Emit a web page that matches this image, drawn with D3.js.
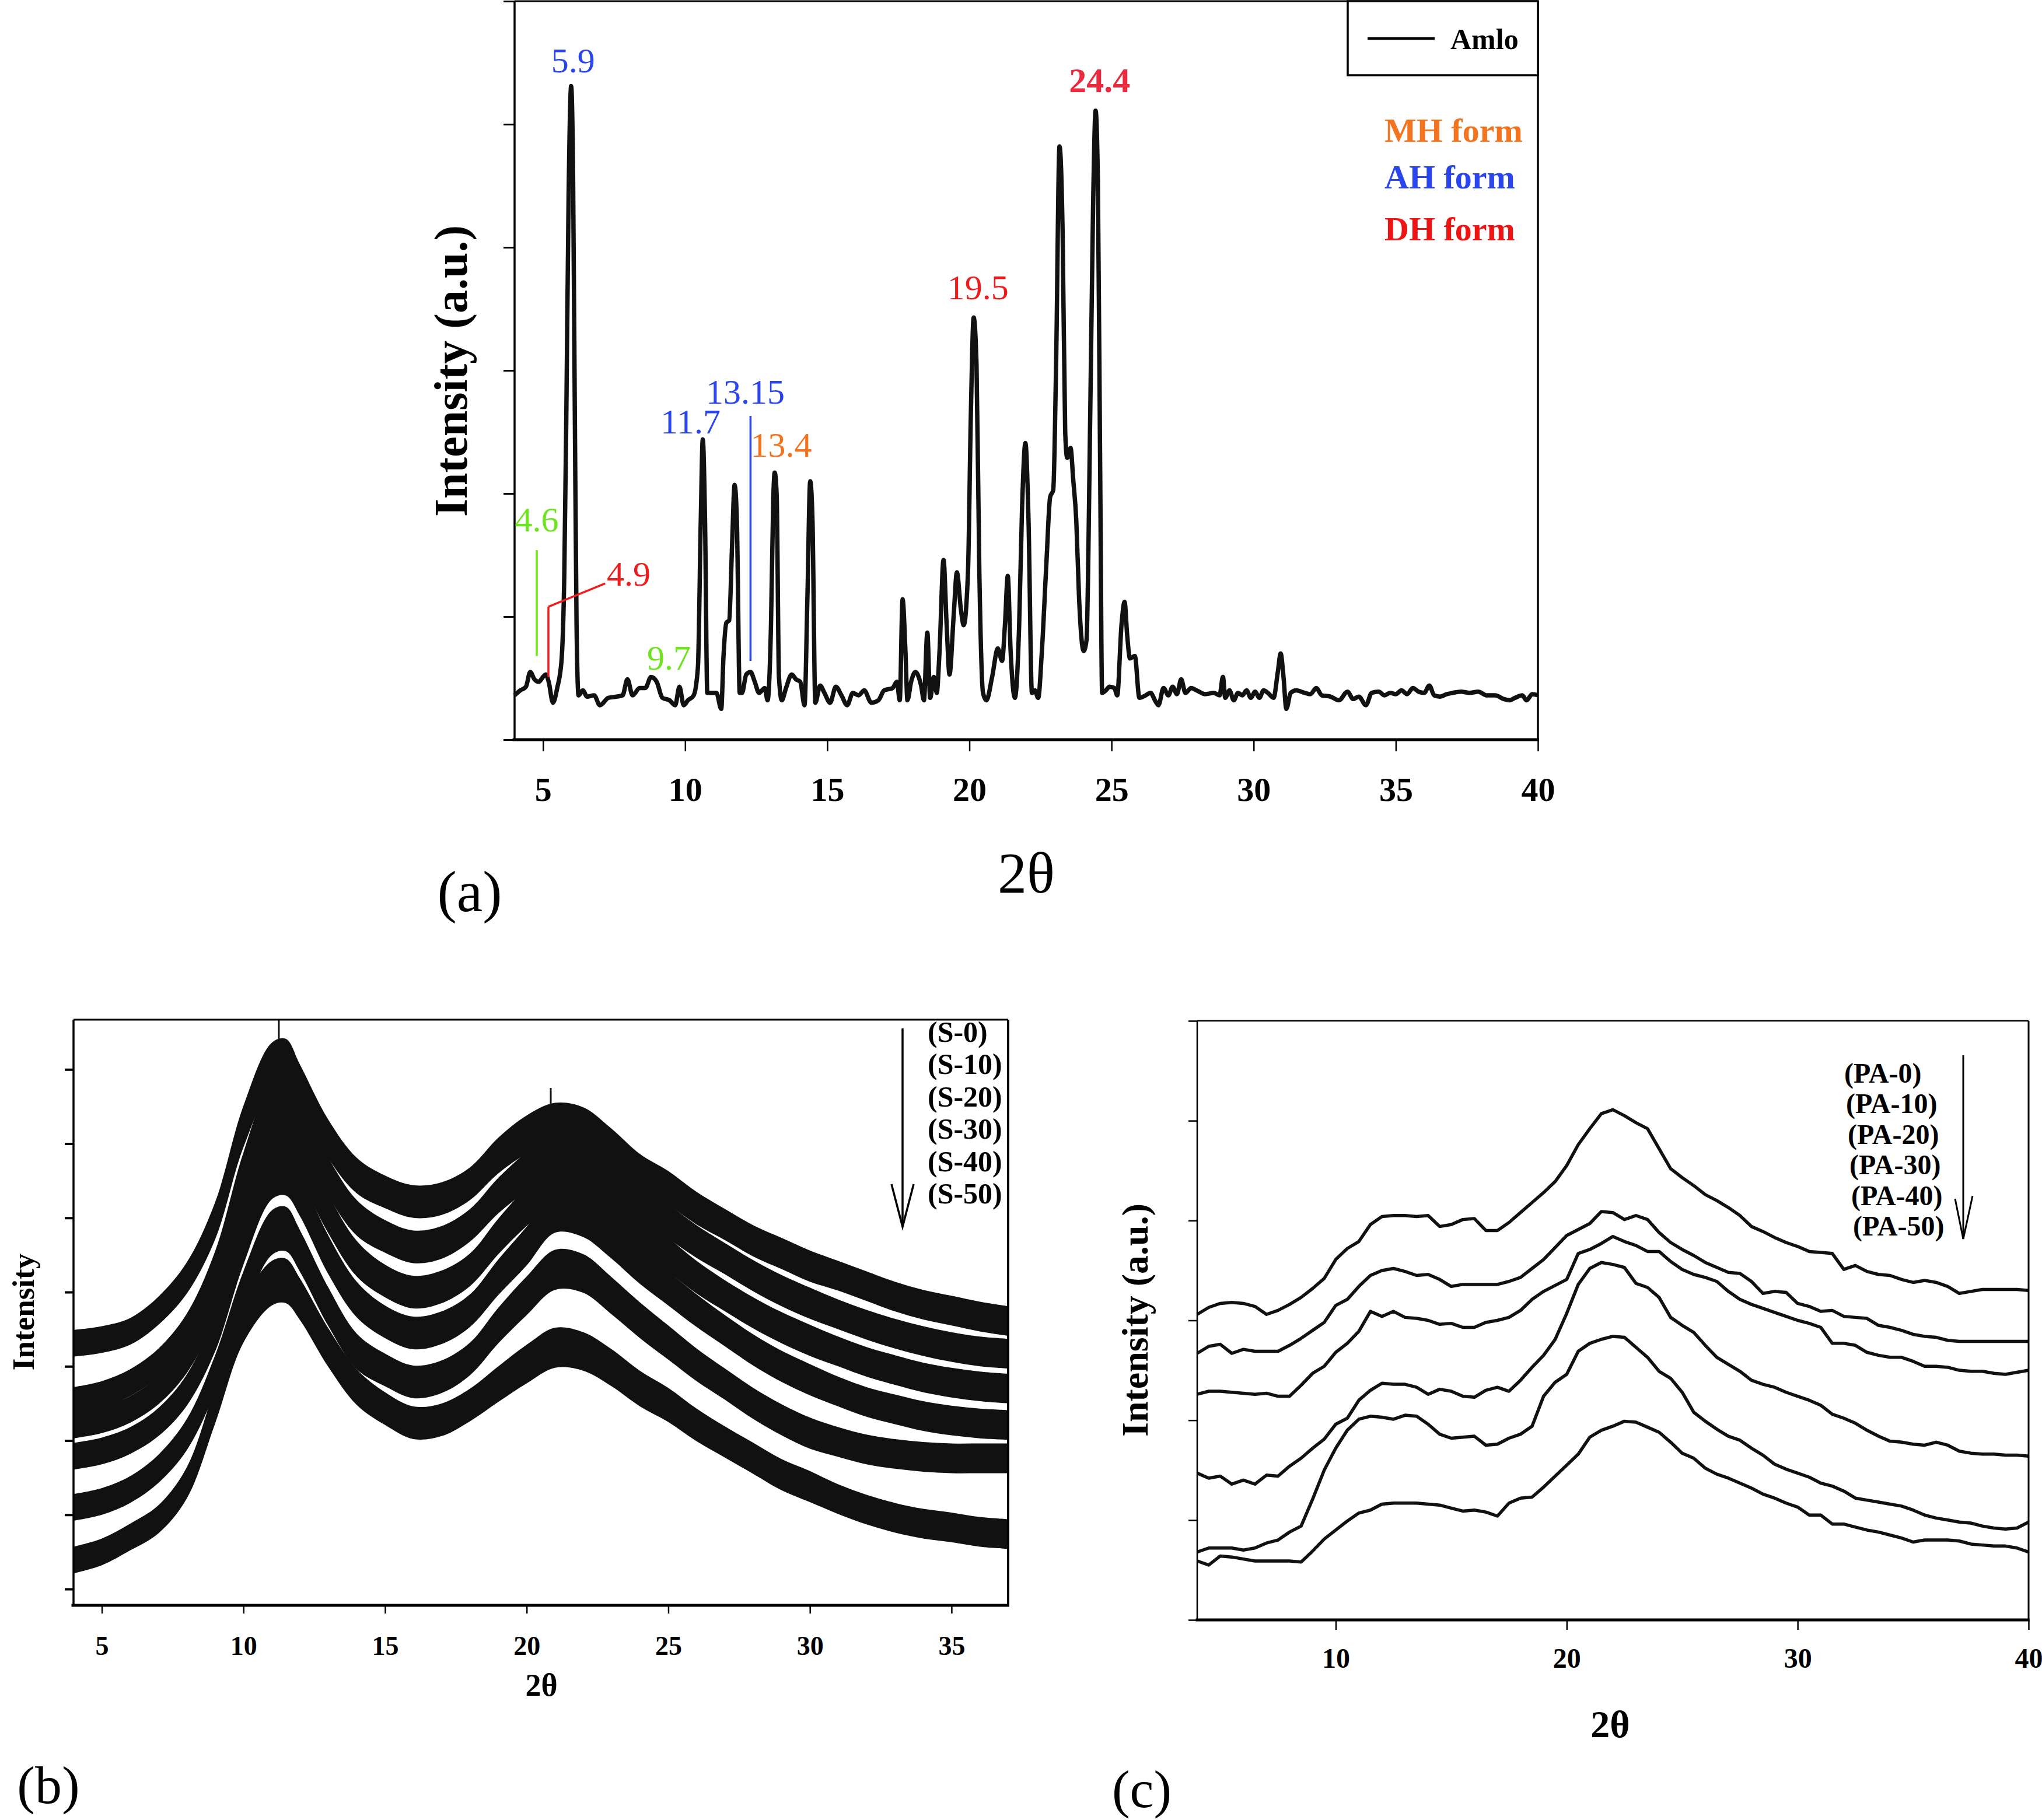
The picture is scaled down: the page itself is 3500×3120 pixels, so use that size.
<!DOCTYPE html>
<html><head><meta charset="utf-8">
<script src="https://cdn.jsdelivr.net/npm/d3@7"></script>
<style>body{margin:0;background:#fff}</style>
</head><body>
<svg id="fig" width="3500" height="3120" xmlns="http://www.w3.org/2000/svg"></svg>
<script>
// ---------------- DATA ----------------
// Panel (a): Amlo XRD pattern (2theta, intensity a.u.)
const amloTheta = [4.0,4.2,4.4,4.55,4.7,4.85,5.0,5.1,5.2,5.35,5.5,5.65,5.75,5.82,5.9,5.99,6.06,6.12,6.18,6.25,6.4,6.55,6.8,7.0,7.3,7.6,7.8,7.97,8.15,8.4,8.6,8.8,9.0,9.2,9.45,9.65,9.8,9.95,10.1,10.3,10.45,10.55,10.62,10.7,10.78,10.9,11.1,11.27,11.35,11.45,11.55,11.65,11.74,11.82,11.92,12.0,12.15,12.3,12.45,12.6,12.8,12.9,13.02,13.1,13.15,13.22,13.3,13.4,13.55,13.75,13.9,14.05,14.2,14.3,14.4,14.48,14.58,14.75,14.9,15.1,15.3,15.5,15.7,15.9,16.1,16.3,16.55,16.8,17.0,17.3,17.45,17.55,17.65,17.75,17.82,17.95,18.1,18.3,18.4,18.52,18.62,18.75,18.85,18.95,19.09,19.2,19.3,19.45,19.56,19.7,19.8,19.95,20.05,20.15,20.25,20.35,20.48,20.6,20.8,21.0,21.15,21.25,21.35,21.45,21.6,21.75,21.85,21.97,22.08,22.2,22.3,22.42,22.55,22.71,22.84,22.95,23.05,23.17,23.28,23.37,23.44,23.56,23.65,23.76,23.86,24.02,24.12,24.25,24.35,24.44,24.52,24.6,24.67,24.8,24.93,25.1,25.2,25.35,25.46,25.55,25.65,25.82,25.98,26.2,26.37,26.55,26.65,26.83,27.0,27.15,27.3,27.45,27.6,27.8,28.0,28.3,28.6,28.8,28.92,29.0,29.15,29.3,29.45,29.6,29.75,29.9,30.05,30.2,30.35,30.5,30.7,30.85,30.95,31.05,31.15,31.3,31.5,31.8,32.0,32.2,32.4,32.7,33.0,33.3,33.5,33.7,33.95,34.15,34.4,34.6,34.8,35.0,35.2,35.4,35.6,35.8,36.0,36.18,36.35,36.55,36.8,37.0,37.3,37.6,37.9,38.2,38.5,38.8,39.0,39.2,39.45,39.6,39.8,40.0];
const amloIntensity = [36,40,43,55,49,47,51,53,47,30,42,64,136,263,441,531,453,263,93,36,40,35,36,28,34,35,36,49,36,42,42,51,47,34,32,28,43,28,32,36,59,178,244,178,38,38,38,25,68,95,97,157,207,178,38,38,53,55,47,38,42,32,93,195,217,199,51,32,42,53,49,47,28,114,210,178,30,44,38,30,43,36,28,38,36,40,30,32,40,42,47,32,114,72,32,47,55,44,32,87,34,51,38,72,146,93,53,102,136,106,93,136,263,343,305,136,38,32,51,74,64,93,133,72,34,93,186,241,178,38,40,34,72,144,197,203,305,482,411,250,229,237,212,178,114,72,81,263,432,511,453,220,38,40,43,42,36,93,112,85,66,68,34,36,38,31,28,42,36,43,37,49,38,42,40,37,38,36,51,34,40,32,38,36,40,34,39,34,40,38,34,55,70,51,25,38,40,38,37,42,36,35,32,39,33,35,28,38,39,36,38,37,40,37,42,39,38,44,36,35,37,38,39,38,39,36,36,33,32,34,36,32,37,36];
const amloXTicks = [5,10,15,20,25,30,35,40];
const amloYTicks = [0,100,200,300,400,500,600];

// Peak annotations of panel (a)
const peakText      = ["5.9","24.4","19.5","11.7","13.15","13.4","4.6","4.9","9.7"];
const peakTheta     = [6.06, 24.58, 20.30, 10.19, 12.12, 13.38, 4.78, 8.01, 9.43];
const peakIntensity = [542, 526, 358, 249, 273, 230, 169, 125, 57];
const peakColor     = ["#2a44ee","#ea2b3f","#ee1c1c","#2a44ee","#2a44ee","#f3731f","#6ee41e","#ee1c1c","#6ee41e"];
const peakBold      = [false,true,false,false,false,false,false,false,false];
// marker lines: [theta1, int1] -> [theta2, int2]
const markTheta1 = [4.78, 5.19, 5.19, 12.30];
const markInt1   = [154, 51, 108, 263];
const markTheta2 = [4.78, 5.19, 7.19, 12.30];
const markInt2   = [68, 108, 127, 64];
const markColor  = ["#6ee41e","#ee1c1c","#ee1c1c","#2a44ee"];
const formNames  = ["MH form","AH form","DH form"];
const formColors = ["#f3731f","#2a44ee","#ee1414"];

// Panel (b): S-series (amorphous, noisy) – centre of each noisy band and band half-width
const sTheta = [4,5,6,7,8,9,10,11,11.5,12,13,14,15,16,17,18,19,20,21,22,23,24,25,26,27,28,29,30,31,32,33,34,35,36,37];
const s0  = [3.31,3.36,3.47,3.75,4.19,4.96,6.23,7.06,7.11,6.78,6.06,5.57,5.35,5.22,5.26,5.46,5.84,6.12,6.28,6.23,5.95,5.62,5.40,5.13,4.91,4.69,4.52,4.35,4.22,4.08,3.94,3.83,3.75,3.67,3.61];
const s10 = [2.54,2.62,2.78,3.05,3.50,4.30,5.60,6.55,6.62,6.30,5.55,5.00,4.75,4.61,4.67,4.90,5.30,5.62,5.84,5.80,5.52,5.20,4.95,4.68,4.45,4.22,4.02,3.85,3.70,3.56,3.44,3.34,3.26,3.20,3.17];
const s20 = [2.21,2.28,2.42,2.68,3.12,3.90,5.15,6.05,6.10,5.80,5.05,4.45,4.15,4.00,4.07,4.30,4.75,5.15,5.46,5.42,5.12,4.78,4.50,4.20,3.95,3.72,3.52,3.35,3.20,3.06,2.95,2.85,2.78,2.73,2.70];
const s30 = [1.79,1.86,2.00,2.25,2.68,3.45,4.65,5.55,5.60,5.30,4.50,3.90,3.60,3.45,3.52,3.75,4.20,4.62,5.07,5.00,4.70,4.35,4.05,3.75,3.48,3.22,3.00,2.82,2.66,2.52,2.42,2.33,2.27,2.23,2.21];
const s40 = [1.10,1.18,1.34,1.62,2.08,2.90,4.00,4.80,4.85,4.55,3.80,3.20,2.95,2.79,2.86,3.10,3.55,3.95,4.30,4.25,3.95,3.62,3.32,3.02,2.76,2.50,2.28,2.10,1.98,1.88,1.82,1.78,1.76,1.76,1.76];
const s50 = [0.39,0.50,0.70,0.94,1.43,2.48,3.60,4.12,4.15,3.90,3.25,2.72,2.43,2.24,2.28,2.48,2.76,3.03,3.25,3.20,2.98,2.70,2.48,2.21,1.98,1.76,1.54,1.38,1.21,1.07,0.96,0.88,0.83,0.77,0.74];
const sHalf = [0.18,0.18,0.18,0.19,0.21,0.25,0.28,0.30,0.30,0.28,0.26,0.24,0.22,0.22,0.22,0.22,0.24,0.26,0.27,0.26,0.25,0.24,0.23,0.22,0.21,0.21,0.21,0.21,0.20,0.20,0.20,0.20,0.20,0.20,0.20];
const sSpikeTheta = [11.25, 20.85];
const sSpikeTop   = [7.67, 6.75];
const sSpikeBase  = [7.08, 6.28];
const sNames = ["(S-0)","(S-10)","(S-20)","(S-30)","(S-40)","(S-50)"];
const sXTicks = [5,10,15,20,25,30,35];
const sYTicks = [0,1,2,3,4,5,6,7];

// Panel (c): PA-series
const paTheta = [4,4.5,5,5.5,6,6.5,7,7.5,8,8.5,9,9.5,10,10.5,11,11.5,12,12.5,13,13.5,14,14.5,15,15.5,16,16.5,17,17.5,18,18.5,19,19.5,20,20.5,21,21.5,22,22.5,23,23.5,24,24.5,25,25.5,26,26.5,27,27.5,28,28.5,29,29.5,30,30.5,31,31.5,32,32.5,33,33.5,34,34.5,35,35.5,36,36.5,37,37.5,38,38.5,39,39.5,40];
const pa0  = [306,313,317,318,317,314,306,310,316,323,332,342,361,372,379,396,404,405,405,404,405,394,396,401,402,390,390,398,408,418,428,439,455,476,492,507,511,505,498,492,472,452,443,435,426,420,413,405,394,389,383,378,374,369,368,367,351,355,349,346,345,341,338,340,338,334,327,329,331,331,331,331,330];
const pa10 = [267,274,276,267,271,269,269,269,275,282,290,298,315,321,334,345,350,352,349,345,346,341,334,336,336,336,336,339,343,352,361,373,385,391,397,409,408,401,405,401,388,378,371,365,358,353,348,347,339,327,329,328,317,314,309,310,304,303,302,295,293,290,286,284,283,280,279,279,279,279,279,279,279];
const pa20 = [226,229,229,228,227,226,227,224,224,235,247,254,268,277,289,309,304,309,303,302,300,296,297,293,293,298,300,303,310,321,329,335,341,367,371,377,384,379,375,369,369,359,351,346,343,339,329,321,316,312,308,304,300,297,293,277,277,275,268,265,263,263,259,254,254,253,250,249,249,247,246,248,250];
const pa30 = [147,142,144,136,140,136,145,144,154,162,172,181,196,202,220,230,237,236,236,233,226,231,229,224,223,230,233,229,240,253,265,281,307,336,352,358,356,353,337,333,323,303,295,288,275,263,256,249,240,236,233,228,224,220,215,206,202,197,190,184,179,178,176,175,178,175,169,167,166,166,165,165,164];
const pa40 = [68,72,72,72,70,72,77,80,88,94,121,150,172,190,201,204,203,201,205,204,196,186,182,183,184,175,176,182,186,194,224,238,246,269,277,281,284,283,273,263,249,242,228,208,199,191,184,180,172,165,156,151,147,143,137,134,129,122,120,118,116,114,110,105,102,100,98,97,94,92,91,92,98];
const pa50 = [59,55,64,63,61,59,59,59,59,58,69,81,90,99,107,110,116,117,117,117,116,115,112,109,110,108,104,117,122,123,133,144,155,166,183,190,194,199,198,193,188,178,167,162,152,146,142,137,132,126,122,117,113,105,105,96,96,93,90,88,85,82,78,80,80,80,79,76,75,74,74,72,68];
const paNames = ["(PA-0)","(PA-10)","(PA-20)","(PA-30)","(PA-40)","(PA-50)"];
const paXTicks = [10,20,30,40];
const paYTicks = [0,100,200,300,400,500,600];

// ---------------- DRAWING ----------------
const SERIF = "'Liberation Serif','Times New Roman',serif";
const svg = d3.select("#fig").attr("font-family", SERIF);
svg.append("rect").attr("width",3500).attr("height",3120).attr("fill","#fff");

function frame(g, L, R, T, B, w) {
  // w: [left, right, top, bottom]
  g.append("line").attr("x1",L).attr("x2",L).attr("y1",T).attr("y2",B).attr("stroke","#000").attr("stroke-width",w[0]);
  g.append("line").attr("x1",R).attr("x2",R).attr("y1",T).attr("y2",B).attr("stroke","#000").attr("stroke-width",w[1]);
  g.append("line").attr("x1",L).attr("x2",R).attr("y1",T).attr("y2",T).attr("stroke","#000").attr("stroke-width",w[2]);
  g.append("line").attr("x1",L-w[0]).attr("x2",R+w[1]/2).attr("y1",B).attr("y2",B).attr("stroke","#000").attr("stroke-width",w[3]);
}
function styleAxis(g, fs, tw) {
  g.select(".domain").remove();
  g.selectAll(".tick line").attr("stroke","#000").attr("stroke-width",tw);
  g.selectAll(".tick text").attr("font-size",fs).attr("font-weight","bold").attr("fill","#000").attr("font-family",SERIF);
}

// ===== Panel (a) =====
{
  const L=882, R=2636, T=2, B=1268;
  const x = d3.scaleLinear().domain([4,40]).range([L,R]);
  const y = d3.scaleLinear().domain([0,600]).range([B,T]);
  const g = svg.append("g");
  const gx = g.append("g").attr("transform",`translate(0,${B})`)
    .call(d3.axisBottom(x).tickValues(amloXTicks).tickSize(20).tickPadding(44));
  styleAxis(gx, 58, 2.5);
  const gy = g.append("g").attr("transform",`translate(${L},0)`)
    .call(d3.axisLeft(y).tickValues(amloYTicks).tickSize(19).tickFormat(""));
  styleAxis(gy, 0, 3);
  frame(g, L, R, T, B, [3.5,3.5,3,5]);

  const pts = amloTheta.map((t,i)=>[t, amloIntensity[i]]);
  g.append("path").datum(pts)
    .attr("d", d3.line().x(d=>x(d[0])).y(d=>y(d[1])).curve(d3.curveMonotoneX))
    .attr("fill","none").attr("stroke","#111").attr("stroke-width",7.5).attr("stroke-linejoin","round");

  markTheta1.forEach((t,i)=>{
    g.append("line").attr("x1",x(t)).attr("y1",y(markInt1[i])).attr("x2",x(markTheta2[i])).attr("y2",y(markInt2[i]))
      .attr("stroke",markColor[i]).attr("stroke-width",3.5);
  });
  peakText.forEach((s,i)=>{
    g.append("text").attr("x",x(peakTheta[i])).attr("y",y(peakIntensity[i]))
      .attr("text-anchor","middle").attr("font-size",60).attr("font-weight",peakBold[i]?"bold":"normal")
      .attr("fill",peakColor[i]).text(s);
  });

  // legend box
  g.append("rect").attr("x",2310).attr("y",2).attr("width",R-2310).attr("height",127)
    .attr("fill","#fff").attr("stroke","#000").attr("stroke-width",3.5);
  g.append("line").attr("x1",2344).attr("x2",2459).attr("y1",66).attr("y2",66).attr("stroke","#000").attr("stroke-width",4.5);
  g.append("text").attr("x",2486).attr("y",84).attr("font-size",50).attr("font-weight","bold").text("Amlo");
  formNames.forEach((s,i)=>{
    g.append("text").attr("x",2373).attr("y",[243,323,412][i]).attr("font-size",58).attr("font-weight","bold")
      .attr("fill",formColors[i]).text(s);
  });

  g.append("text").attr("transform","translate(800,636) rotate(-90)").attr("text-anchor","middle")
    .attr("font-size",80).attr("font-weight","bold").text("Intensity (a.u.)");
  g.append("text").attr("x",1759).attr("y",1530).attr("text-anchor","middle").attr("font-size",100).text("2θ");
  g.append("text").attr("x",805).attr("y",1562).attr("text-anchor","middle").attr("font-size",100).text("(a)");
}

// ===== Panel (b) =====
{
  const L=126, R=1728, T=1748, B=2752;
  const x = d3.scaleLinear().domain([4,37]).range([L,R]);
  const y = d3.scaleLinear().domain([-0.22,7.67]).range([B,T]);
  const g = svg.append("g");
  g.append("clipPath").attr("id","clipB").append("rect").attr("x",L).attr("y",T).attr("width",R-L).attr("height",B-T);
  const gx = g.append("g").attr("transform",`translate(0,${B})`)
    .call(d3.axisBottom(x).tickValues(sXTicks).tickSize(14).tickPadding(38));
  styleAxis(gx, 46, 2.5);
  const gy = g.append("g").attr("transform",`translate(${L},0)`)
    .call(d3.axisLeft(y).tickValues(sYTicks).tickSize(15).tickFormat(""));
  styleAxis(gy, 0, 4);

  const series = [s0,s10,s20,s30,s40,s50];
  const area = d3.area().x(d=>x(d[0])).y0(d=>y(d[1]-d[2])).y1(d=>y(d[1]+d[2])).curve(d3.curveCatmullRom.alpha(0.5));
  const plot = g.append("g").attr("clip-path","url(#clipB)");
  series.forEach(s=>{
    const pts = sTheta.map((t,i)=>[t, s[i], sHalf[i]]);
    plot.append("path").datum(pts).attr("d",area).attr("fill","#111");
  });
  sSpikeTheta.forEach((t,i)=>{
    plot.append("line").attr("x1",x(t)).attr("x2",x(t)).attr("y1",y(sSpikeBase[i])).attr("y2",y(sSpikeTop[i]))
      .attr("stroke","#111").attr("stroke-width",3);
  });
  frame(g, L, R, T, B, [3.5,4,3,5]);

  // legend
  sNames.forEach((s,i)=>{
    g.append("text").attr("x",1590).attr("y",1786+55.4*i).attr("font-size",50).attr("font-weight","bold").text(s);
  });
  g.append("line").attr("x1",1547).attr("x2",1547).attr("y1",1763).attr("y2",2103).attr("stroke","#000").attr("stroke-width",3.5);
  g.append("path").attr("d","M1528,2030 L1547,2103 L1566,2030").attr("fill","none").attr("stroke","#000").attr("stroke-width",3.5);

  g.append("text").attr("transform","translate(58,2249) rotate(-90)").attr("text-anchor","middle")
    .attr("font-size",53).attr("font-weight","bold").text("Intensity");
  g.append("text").attr("x",928).attr("y",2907).attr("text-anchor","middle").attr("font-size",54).attr("font-weight","bold").text("2θ");
  g.append("text").attr("x",83).attr("y",3091).attr("text-anchor","middle").attr("font-size",92).text("(b)");
}

// ===== Panel (c) =====
{
  const L=2052, R=3477, T=1750, B=2777;
  const x = d3.scaleLinear().domain([4,40]).range([L,R]);
  const y = d3.scaleLinear().domain([0,600]).range([B,T]);
  const g = svg.append("g");
  const gx = g.append("g").attr("transform",`translate(0,${B})`)
    .call(d3.axisBottom(x).tickValues(paXTicks).tickSize(17).tickPadding(31));
  styleAxis(gx, 48, 2.5);
  const gy = g.append("g").attr("transform",`translate(${L},0)`)
    .call(d3.axisLeft(y).tickValues(paYTicks).tickSize(15).tickFormat(""));
  styleAxis(gy, 0, 2.5);

  const series = [pa0,pa10,pa20,pa30,pa40,pa50];
  const line = d3.line().x(d=>x(d[0])).y(d=>y(d[1]));
  series.forEach(s=>{
    const pts = paTheta.map((t,i)=>[t, s[i]]);
    g.append("path").datum(pts).attr("d",line).attr("fill","none").attr("stroke","#111")
      .attr("stroke-width",5.5).attr("stroke-linejoin","round");
  });
  frame(g, L, R, T, B, [2.5,3,2.5,5]);

  paNames.forEach((s,i)=>{
    g.append("text").attr("x",3161+3*i).attr("y",1856+52.4*i).attr("font-size",48).attr("font-weight","bold").text(s);
  });
  g.append("line").attr("x1",3365).attr("x2",3365).attr("y1",1809).attr("y2",2124).attr("stroke","#000").attr("stroke-width",3);
  g.append("path").attr("d","M3351,2055 L3365,2124 L3381,2050").attr("fill","none").attr("stroke","#000").attr("stroke-width",3);

  g.append("text").attr("transform","translate(1967,2263) rotate(-90)").attr("text-anchor","middle")
    .attr("font-size",64).attr("font-weight","bold").text("Intensity (a.u.)");
  g.append("text").attr("x",2760).attr("y",2978).attr("text-anchor","middle").attr("font-size",66).attr("font-weight","bold").text("2θ");
  g.append("text").attr("x",1957).attr("y",3098).attr("text-anchor","middle").attr("font-size",92).text("(c)");
}
</script>
</body></html>
